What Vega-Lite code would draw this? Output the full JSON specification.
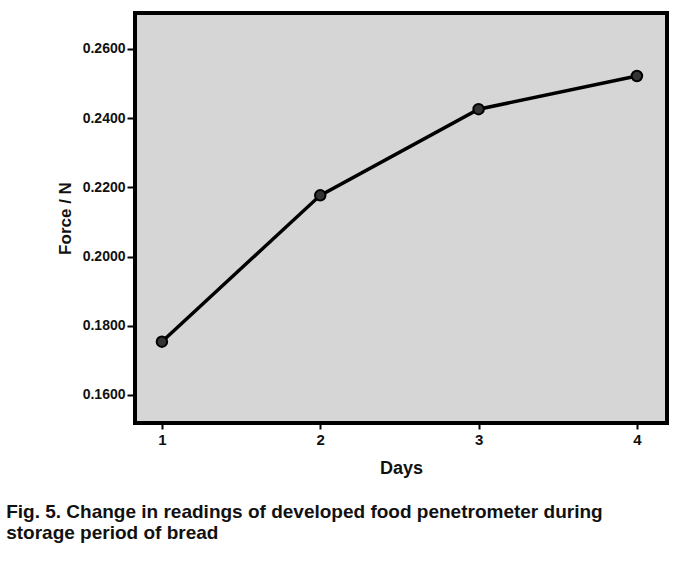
{
  "$schema": "https://vega.github.io/schema/vega-lite/v6.json",
  "autosize": {"type": "none"},
  "padding": {"left": 135, "top": 13, "right": 14, "bottom": 152},
  "width": 532,
  "height": 410,
  "background": "white",
  "data": {"values": [
    {"day": 1, "force": 0.1754},
    {"day": 2, "force": 0.2177},
    {"day": 3, "force": 0.2426},
    {"day": 4, "force": 0.2522}
  ]},
  "title": {
    "text": ["Fig. 5. Change in readings of developed food penetrometer during", "storage period of bread"],
    "orient": "bottom",
    "anchor": "start",
    "dx": -50,
    "offset": 26,
    "font": "Liberation Sans",
    "fontSize": 19,
    "fontWeight": "bold",
    "color": "#111111",
    "lineHeight": 21
  },
  "config": {
    "view": {"fill": "#d6d6d6", "stroke": "#000000", "strokeWidth": 4},
    "axis": {
      "labelFont": "Liberation Sans",
      "titleFont": "Liberation Sans",
      "labelFontWeight": "bold",
      "titleFontWeight": "bold",
      "labelColor": "#111111",
      "titleColor": "#111111",
      "tickColor": "#000000",
      "tickWidth": 2,
      "domain": false,
      "grid": false
    }
  },
  "mark": {"type": "line", "color": "#000000", "strokeWidth": 3.5, "point": {"filled": true, "size": 110, "color": "#333333", "stroke": "#000000", "strokeWidth": 2}},
  "encoding": {
    "x": {
      "field": "day", "type": "quantitative",
      "scale": {"domain": [0.83, 4.19], "nice": false, "zero": false},
      "axis": {"values": [1, 2, 3, 4], "format": "d", "title": "Days", "labelFontSize": 15, "titleFontSize": 18, "tickSize": 6, "labelPadding": 3, "titlePadding": 12}
    },
    "y": {
      "field": "force", "type": "quantitative",
      "scale": {"domain": [0.1519, 0.2704], "nice": false, "zero": false},
      "axis": {"values": [0.16, 0.18, 0.2, 0.22, 0.24, 0.26], "format": ".4f", "title": "Force / N", "labelFontSize": 14, "titleFontSize": 17, "tickSize": 8, "labelPadding": 2, "titlePadding": 8}
    }
  }
}
